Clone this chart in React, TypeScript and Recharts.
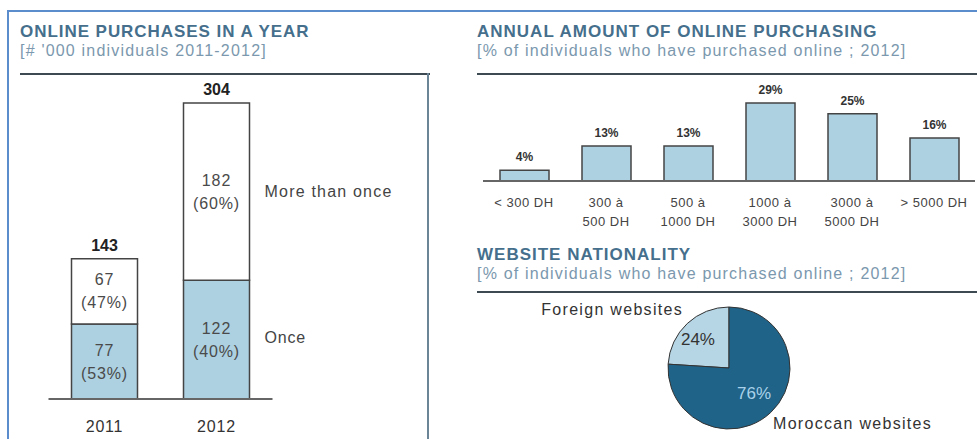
import React from 'react';
import { BarChart, Bar, XAxis, YAxis, LabelList, PieChart, Pie, Cell } from 'recharts';

// left: online purchases in a year ('000 individuals)
const years = ['2011', '2012'];
const onceValues = [77, 122];
const moreValues = [67, 182];
const oncePct = ['53%', '40%'];
const morePct = ['47%', '60%'];
const totals = [143, 304];

// right top: annual amount of online purchasing (%)
const amountRanges = ['< 300 DH', '300 à\n500 DH', '500 à\n1000 DH', '1000 à\n3000 DH', '3000 à\n5000 DH', '> 5000 DH'];
const amountShares = [4, 13, 13, 29, 25, 16];

// right bottom: website nationality (%)
const siteTypes = ['Foreign websites', 'Moroccan websites'];
const siteShares = [24, 76];

const FONT = '"Liberation Sans", Arial, sans-serif';
const TITLE = '#456f8c';
const SUB = '#7b98ae';
const LIGHT = '#add1e1';
const DARK = '#1f6388';

const purchaseData = years.map((y, i) => ({
    year: y,
    once: onceValues[i],
    more: moreValues[i],
}));

const amountData = amountRanges.map((r, i) => ({ range: r, share: amountShares[i] }));
const siteData = siteTypes.map((s, i) => ({ name: s, value: siteShares[i] }));

function TwoLine({ x, y, width, height, index, values, pcts }: any) {
    const cx = x + width / 2;
    const cy = y + height / 2;
    return (
        <text x={cx} y={cy} textAnchor="middle" fontSize={16} letterSpacing={0.9} fill="#4a4a4a" fontFamily={FONT}>
            <tspan x={cx} dy={-6}>{values[index]}</tspan>
            <tspan x={cx} dy={23}>({pcts[index]})</tspan>
        </text>
    );
}

function AmountTick({ x, y, payload }: any) {
    const lines = String(payload.value).split('\n');
    return (
        <text x={x} y={y + 18} textAnchor="middle" fontSize={13} letterSpacing={0.5} fill="#444" fontFamily={FONT}>
            {lines.map((l, i) => (
                <tspan key={i} x={x} dy={i === 0 ? 0 : 19}>{l}</tspan>
            ))}
        </text>
    );
}

function Heading({ left, top, title, sub, spacing }: any) {
    return (
        <div style={{ position: 'absolute', left, top, fontFamily: FONT, whiteSpace: 'nowrap' }}>
            <div style={{ fontSize: 17, fontWeight: 'bold', color: TITLE, letterSpacing: spacing, lineHeight: '19px' }}>{title}</div>
            <div style={{ fontSize: 16, color: SUB, letterSpacing: 1.2, lineHeight: '19px' }}>{sub}</div>
        </div>
    );
}

export default function App() {
    return (
        <div style={{ position: 'absolute', left: 0, top: 0, width: 977, height: 439, background: '#fff', overflow: 'hidden' }}>
            {/* outer frame */}
            <div style={{ position: 'absolute', left: 7, top: 10, width: 970, height: 2, background: '#5b8ccb' }} />
            <div style={{ position: 'absolute', left: 7, top: 10, width: 2, height: 429, background: '#5b8ccb' }} />

            <Heading left={20} top={22} spacing={0.95} title="ONLINE PURCHASES IN A YEAR" sub="[# '000 individuals 2011-2012]" />
            <div style={{ position: 'absolute', left: 20, top: 73, width: 410, height: 2, background: '#3d4a52' }} />
            <div style={{ position: 'absolute', left: 427, top: 73, width: 2, height: 366, background: '#6b8596' }} />

            <Heading left={477} top={22} spacing={1.0} title="ANNUAL AMOUNT OF ONLINE PURCHASING" sub="[% of individuals who have purchased online ; 2012]" />
            <div style={{ position: 'absolute', left: 477, top: 73, width: 500, height: 2, background: '#3d4a52' }} />

            <Heading left={477} top={245} spacing={1.0} title="WEBSITE NATIONALITY" sub="[% of individuals who have purchased online ; 2012]" />
            <div style={{ position: 'absolute', left: 477, top: 291, width: 500, height: 2, background: '#3d4a52' }} />

            {/* left stacked bars */}
            <div style={{ position: 'absolute', left: 0, top: 0 }}>
                <BarChart width={430} height={439} data={purchaseData} margin={{ top: 68, right: 157.5, left: 48.5, bottom: 10 }}>
                    <YAxis hide domain={[0, 340]} />
                    <XAxis
                        dataKey="year"
                        height={30}
                        axisLine={{ stroke: '#666', strokeWidth: 2 }}
                        tickLine={false}
                        tick={{ fontSize: 16, fill: '#333', fontFamily: FONT, letterSpacing: 0.8, dy: 14 }}
                    />
                    <Bar dataKey="once" stackId="a" fill={LIGHT} stroke="#444" strokeWidth={1.5} barSize={66} isAnimationActive={false}>
                        <LabelList content={(p: any) => <TwoLine {...p} values={onceValues} pcts={oncePct} />} />
                        <LabelList
                            content={(p: any) =>
                                p.index === 1 ? (
                                    <text x={p.x + p.width + 15} y={p.y + p.height / 2 + 3} fontSize={16} letterSpacing={0.8} fill="#444" fontFamily={FONT}>Once</text>
                                ) : null
                            }
                        />
                    </Bar>
                    <Bar dataKey="more" stackId="a" fill="#fff" stroke="#444" strokeWidth={1.5} barSize={66} isAnimationActive={false}>
                        <LabelList content={(p: any) => <TwoLine {...p} values={moreValues} pcts={morePct} />} />
                        <LabelList
                            content={(p: any) => (
                                <text x={p.x + p.width / 2} y={p.y - 8} textAnchor="middle" fontSize={16} fontWeight="bold" fill="#222" fontFamily={FONT}>
                                    {totals[p.index]}
                                </text>
                            )}
                        />
                        <LabelList
                            content={(p: any) =>
                                p.index === 1 ? (
                                    <text x={p.x + p.width + 15} y={p.y + p.height / 2 + 5} fontSize={16} letterSpacing={1.2} fill="#444" fontFamily={FONT}>More than  once</text>
                                ) : null
                            }
                        />
                    </Bar>
                </BarChart>
            </div>

            {/* right top bars */}
            <div style={{ position: 'absolute', left: 483, top: 80 }}>
                <BarChart width={494} height={159} data={amountData} margin={{ top: 7, right: 2, left: 0, bottom: 4 }}>
                    <YAxis hide domain={[0, 35]} />
                    <XAxis
                        dataKey="range"
                        height={54}
                        interval={0}
                        axisLine={{ stroke: '#666', strokeWidth: 2 }}
                        tickLine={false}
                        tick={<AmountTick />}
                    />
                    <Bar dataKey="share" fill={LIGHT} stroke="#444" strokeWidth={1.5} barSize={49} isAnimationActive={false}>
                        <LabelList
                            dataKey="share"
                            position="top"
                            offset={9}
                            formatter={(v: any) => `${v}%`}
                            style={{ fontSize: 12, fontWeight: 'bold', fill: '#333', fontFamily: FONT }}
                        />
                    </Bar>
                </BarChart>
            </div>

            {/* pie */}
            <div style={{ position: 'absolute', left: 477, top: 293 }}>
                <PieChart width={500} height={146}>
                    <Pie
                        data={siteData}
                        dataKey="value"
                        cx={247}
                        cy={70}
                        outerRadius={61}
                        startAngle={90}
                        endAngle={450}
                        stroke="#333"
                        strokeWidth={1}
                        isAnimationActive={false}
                        labelLine={false}
                        label={(p: any) => {
                            const rad = Math.PI / 180;
                            const r = p.outerRadius * 0.6;
                            const x = p.cx + r * Math.cos(-p.midAngle * rad);
                            const y = p.cy + r * Math.sin(-p.midAngle * rad);
                            const outer = p.index === 0
                                ? { x: p.cx - 46, y: p.cy - 53, anchor: 'end' }
                                : { x: p.cx + 44, y: p.cy + 61, anchor: 'start' };
                            return (
                                <g>
                                    <text x={p.index === 0 ? x - 6 : x} y={y + 4} textAnchor="middle" fontSize={17} fill={p.index === 0 ? '#333' : '#a9d2ea'} fontFamily={FONT}>
                                        {p.value}%
                                    </text>
                                    <text x={outer.x} y={outer.y} textAnchor={outer.anchor} fontSize={16} letterSpacing={1.3} fill="#333" fontFamily={FONT}>
                                        {p.name}
                                    </text>
                                </g>
                            );
                        }}
                    >
                        <Cell fill="#b7d6e5" />
                        <Cell fill={DARK} />
                    </Pie>
                </PieChart>
            </div>
        </div>
    );
}
